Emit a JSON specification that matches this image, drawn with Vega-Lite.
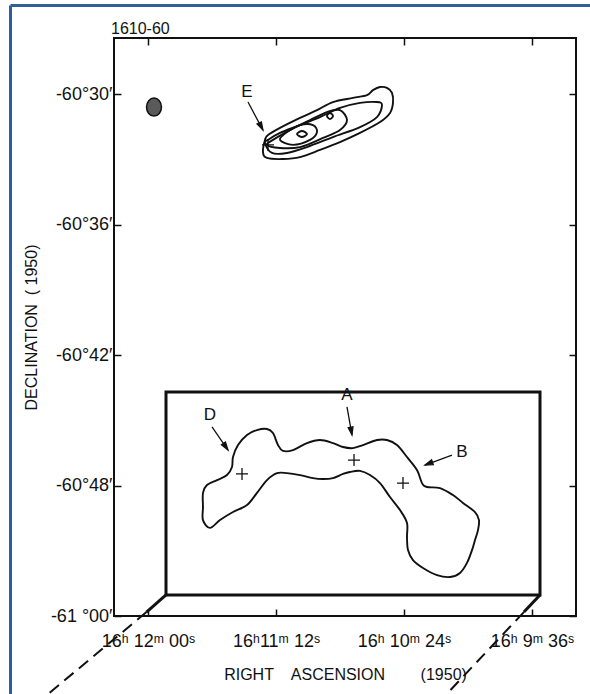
{
  "$schema": "https://vega.github.io/schema/vega-lite/v6.json",
  "width": 462,
  "height": 578,
  "autosize": {"type": "none"},
  "padding": {"left": 114, "top": 38, "right": 14, "bottom": 78},
  "background": "white",
  "datasets": {
    "box": [{"ra": 713.25, "ra2": 573.0, "dec": 43.70, "dec2": 53.03}],
    "contours": [
      {"id": "arch", "i": 0, "ra": 696.75, "dec": 49.95},
      {"id": "arch", "i": 1, "ra": 699.38, "dec": 49.59},
      {"id": "arch", "i": 2, "ra": 699.38, "dec": 48.99},
      {"id": "arch", "i": 3, "ra": 699.38, "dec": 48.34},
      {"id": "arch", "i": 4, "ra": 697.88, "dec": 47.98},
      {"id": "arch", "i": 5, "ra": 694.13, "dec": 47.75},
      {"id": "arch", "i": 6, "ra": 690.38, "dec": 47.52},
      {"id": "arch", "i": 7, "ra": 688.5, "dec": 47.15},
      {"id": "arch", "i": 8, "ra": 688.13, "dec": 46.69},
      {"id": "arch", "i": 9, "ra": 686.25, "dec": 46.14},
      {"id": "arch", "i": 10, "ra": 682.88, "dec": 45.68},
      {"id": "arch", "i": 11, "ra": 679.13, "dec": 45.45},
      {"id": "arch", "i": 12, "ra": 675.38, "dec": 45.40},
      {"id": "arch", "i": 13, "ra": 673.13, "dec": 45.59},
      {"id": "arch", "i": 14, "ra": 671.25, "dec": 46.14},
      {"id": "arch", "i": 15, "ra": 669.38, "dec": 46.41},
      {"id": "arch", "i": 16, "ra": 665.63, "dec": 46.37},
      {"id": "arch", "i": 17, "ra": 660.38, "dec": 46.05},
      {"id": "arch", "i": 18, "ra": 655.5, "dec": 45.91},
      {"id": "arch", "i": 19, "ra": 650.63, "dec": 46.05},
      {"id": "arch", "i": 20, "ra": 646.88, "dec": 46.23},
      {"id": "arch", "i": 21, "ra": 643.13, "dec": 46.28},
      {"id": "arch", "i": 22, "ra": 639.38, "dec": 46.14},
      {"id": "arch", "i": 23, "ra": 634.13, "dec": 45.91},
      {"id": "arch", "i": 24, "ra": 630.38, "dec": 45.91},
      {"id": "arch", "i": 25, "ra": 626.63, "dec": 46.14},
      {"id": "arch", "i": 26, "ra": 622.88, "dec": 46.69},
      {"id": "arch", "i": 27, "ra": 619.13, "dec": 47.29},
      {"id": "arch", "i": 28, "ra": 617.25, "dec": 47.89},
      {"id": "arch", "i": 29, "ra": 615.38, "dec": 48.07},
      {"id": "arch", "i": 30, "ra": 610.5, "dec": 48.12},
      {"id": "arch", "i": 31, "ra": 605.63, "dec": 48.44},
      {"id": "arch", "i": 32, "ra": 601.88, "dec": 48.80},
      {"id": "arch", "i": 33, "ra": 597.38, "dec": 49.22},
      {"id": "arch", "i": 34, "ra": 595.88, "dec": 49.59},
      {"id": "arch", "i": 35, "ra": 596.25, "dec": 50.05},
      {"id": "arch", "i": 36, "ra": 597.38, "dec": 50.51},
      {"id": "arch", "i": 37, "ra": 598.5, "dec": 50.97},
      {"id": "arch", "i": 38, "ra": 600.38, "dec": 51.56},
      {"id": "arch", "i": 39, "ra": 603.0, "dec": 52.02},
      {"id": "arch", "i": 40, "ra": 606.75, "dec": 52.21},
      {"id": "arch", "i": 41, "ra": 611.63, "dec": 52.12},
      {"id": "arch", "i": 42, "ra": 616.88, "dec": 51.79},
      {"id": "arch", "i": 43, "ra": 620.63, "dec": 51.43},
      {"id": "arch", "i": 44, "ra": 622.5, "dec": 50.97},
      {"id": "arch", "i": 45, "ra": 622.88, "dec": 50.37},
      {"id": "arch", "i": 46, "ra": 622.88, "dec": 49.72},
      {"id": "arch", "i": 47, "ra": 625.5, "dec": 49.13},
      {"id": "arch", "i": 48, "ra": 629.25, "dec": 48.53},
      {"id": "arch", "i": 49, "ra": 633.0, "dec": 47.89},
      {"id": "arch", "i": 50, "ra": 636.75, "dec": 47.52},
      {"id": "arch", "i": 51, "ra": 640.5, "dec": 47.33},
      {"id": "arch", "i": 52, "ra": 644.25, "dec": 47.38},
      {"id": "arch", "i": 53, "ra": 646.88, "dec": 47.47},
      {"id": "arch", "i": 54, "ra": 650.63, "dec": 47.66},
      {"id": "arch", "i": 55, "ra": 654.38, "dec": 47.70},
      {"id": "arch", "i": 56, "ra": 658.13, "dec": 47.66},
      {"id": "arch", "i": 57, "ra": 663.0, "dec": 47.52},
      {"id": "arch", "i": 58, "ra": 667.88, "dec": 47.43},
      {"id": "arch", "i": 59, "ra": 671.63, "dec": 47.43},
      {"id": "arch", "i": 60, "ra": 675.38, "dec": 47.75},
      {"id": "arch", "i": 61, "ra": 679.13, "dec": 48.34},
      {"id": "arch", "i": 62, "ra": 682.88, "dec": 48.90},
      {"id": "arch", "i": 63, "ra": 688.13, "dec": 49.22},
      {"id": "arch", "i": 64, "ra": 693.0, "dec": 49.59},
      {"id": "E1", "i": 0, "ra": 676.13, "dec": 32.11},
      {"id": "E1", "i": 1, "ra": 676.88, "dec": 32.67},
      {"id": "E1", "i": 2, "ra": 675.38, "dec": 32.94},
      {"id": "E1", "i": 3, "ra": 669.38, "dec": 32.99},
      {"id": "E1", "i": 4, "ra": 663.0, "dec": 32.90},
      {"id": "E1", "i": 5, "ra": 655.5, "dec": 32.57},
      {"id": "E1", "i": 6, "ra": 648.0, "dec": 32.21},
      {"id": "E1", "i": 7, "ra": 640.5, "dec": 31.79},
      {"id": "E1", "i": 8, "ra": 633.0, "dec": 31.29},
      {"id": "E1", "i": 9, "ra": 629.25, "dec": 30.87},
      {"id": "E1", "i": 10, "ra": 628.13, "dec": 30.41},
      {"id": "E1", "i": 11, "ra": 628.5, "dec": 29.95},
      {"id": "E1", "i": 12, "ra": 630.38, "dec": 29.72},
      {"id": "E1", "i": 13, "ra": 633.0, "dec": 29.68},
      {"id": "E1", "i": 14, "ra": 635.63, "dec": 29.82},
      {"id": "E1", "i": 15, "ra": 637.88, "dec": 30.05},
      {"id": "E1", "i": 16, "ra": 643.13, "dec": 30.18},
      {"id": "E1", "i": 17, "ra": 650.63, "dec": 30.37},
      {"id": "E1", "i": 18, "ra": 656.63, "dec": 30.74},
      {"id": "E1", "i": 19, "ra": 663.0, "dec": 31.10},
      {"id": "E1", "i": 20, "ra": 670.5, "dec": 31.56},
      {"id": "E1", "i": 21, "ra": 675.0, "dec": 31.89},
      {"id": "E2", "i": 0, "ra": 676.13, "dec": 32.25},
      {"id": "E2", "i": 1, "ra": 673.5, "dec": 32.71},
      {"id": "E2", "i": 2, "ra": 667.88, "dec": 32.71},
      {"id": "E2", "i": 3, "ra": 660.38, "dec": 32.44},
      {"id": "E2", "i": 4, "ra": 650.63, "dec": 31.98},
      {"id": "E2", "i": 5, "ra": 640.5, "dec": 31.52},
      {"id": "E2", "i": 6, "ra": 634.13, "dec": 31.06},
      {"id": "E2", "i": 7, "ra": 632.25, "dec": 30.51},
      {"id": "E2", "i": 8, "ra": 634.13, "dec": 30.37},
      {"id": "E2", "i": 9, "ra": 640.5, "dec": 30.41},
      {"id": "E2", "i": 10, "ra": 648.0, "dec": 30.64},
      {"id": "E2", "i": 11, "ra": 655.5, "dec": 31.06},
      {"id": "E2", "i": 12, "ra": 663.0, "dec": 31.43},
      {"id": "E2", "i": 13, "ra": 670.5, "dec": 31.79},
      {"id": "E2", "i": 14, "ra": 675.0, "dec": 32.11},
      {"id": "E3", "i": 0, "ra": 675.38, "dec": 32.34},
      {"id": "E3", "i": 1, "ra": 670.5, "dec": 32.48},
      {"id": "E3", "i": 2, "ra": 663.0, "dec": 32.44},
      {"id": "E3", "i": 3, "ra": 654.38, "dec": 32.02},
      {"id": "E3", "i": 4, "ra": 648.0, "dec": 31.66},
      {"id": "E3", "i": 5, "ra": 645.38, "dec": 31.20},
      {"id": "E3", "i": 6, "ra": 648.0, "dec": 30.74},
      {"id": "E3", "i": 7, "ra": 652.88, "dec": 30.83},
      {"id": "E3", "i": 8, "ra": 659.25, "dec": 31.20},
      {"id": "E3", "i": 9, "ra": 666.75, "dec": 31.66},
      {"id": "E3", "i": 10, "ra": 673.13, "dec": 32.11},
      {"id": "E4", "i": 0, "ra": 670.5, "dec": 32.11},
      {"id": "E4", "i": 1, "ra": 665.63, "dec": 32.34},
      {"id": "E4", "i": 2, "ra": 659.25, "dec": 32.11},
      {"id": "E4", "i": 3, "ra": 656.63, "dec": 31.75},
      {"id": "E4", "i": 4, "ra": 658.13, "dec": 31.43},
      {"id": "E4", "i": 5, "ra": 663.0, "dec": 31.43},
      {"id": "E4", "i": 6, "ra": 667.88, "dec": 31.75},
      {"id": "E5", "i": 0, "ra": 664.13, "dec": 31.84},
      {"id": "E5", "i": 1, "ra": 662.25, "dec": 31.98},
      {"id": "E5", "i": 2, "ra": 660.38, "dec": 31.84},
      {"id": "E5", "i": 3, "ra": 662.25, "dec": 31.70},
      {"id": "E6", "i": 0, "ra": 652.88, "dec": 31.01},
      {"id": "E6", "i": 1, "ra": 651.75, "dec": 31.15},
      {"id": "E6", "i": 2, "ra": 650.63, "dec": 31.01},
      {"id": "E6", "i": 3, "ra": 651.75, "dec": 30.87}
    ],
    "shafts": [
      {"id": "E", "i": 0, "ra": 682.5, "dec": 30.37},
      {"id": "E", "i": 1, "ra": 676.88, "dec": 31.66},
      {"id": "D", "i": 0, "ra": 696.0, "dec": 45.31},
      {"id": "D", "i": 1, "ra": 690.0, "dec": 46.37},
      {"id": "A", "i": 0, "ra": 645.38, "dec": 44.39},
      {"id": "A", "i": 1, "ra": 643.5, "dec": 45.68},
      {"id": "B", "i": 0, "ra": 606.0, "dec": 46.60},
      {"id": "B", "i": 1, "ra": 616.13, "dec": 47.06}
    ],
    "heads": [
      {"id": "E", "i": 0, "ra": 676.88, "dec": 31.66},
      {"id": "E", "i": 1, "ra": 679.13, "dec": 31.38},
      {"id": "E", "i": 2, "ra": 677.48, "dec": 31.28},
      {"id": "D", "i": 0, "ra": 690.0, "dec": 46.37},
      {"id": "D", "i": 1, "ra": 692.48, "dec": 46.13},
      {"id": "D", "i": 2, "ra": 690.95, "dec": 46.0},
      {"id": "A", "i": 0, "ra": 643.5, "dec": 45.68},
      {"id": "A", "i": 1, "ra": 644.95, "dec": 45.34},
      {"id": "A", "i": 2, "ra": 643.11, "dec": 45.30},
      {"id": "B", "i": 0, "ra": 616.13, "dec": 47.06},
      {"id": "B", "i": 1, "ra": 613.64, "dec": 46.82},
      {"id": "B", "i": 2, "ra": 612.99, "dec": 47.04}
    ],
    "crosses": [
      {"ra": 684.75, "dec": 47.47},
      {"ra": 642.75, "dec": 46.83},
      {"ra": 624.38, "dec": 47.89},
      {"ra": 675.0, "dec": 32.34}
    ],
    "labels": [
      {"label": "E", "ra": 682.88, "dec": 29.91},
      {"label": "D", "ra": 696.75, "dec": 44.76},
      {"label": "A", "ra": 645.38, "dec": 43.84},
      {"label": "B", "ra": 602.25, "dec": 46.46}
    ],
    "heading": [
      {"label": "1610-60", "ra": 733.88, "dec": 27.24}
    ],
    "beam": [{"ra": 717.75, "dec": 30.60}],
    "perspSolid": [
      {"id": "L", "i": 0, "ra": 713.25, "dec": 53.03},
      {"id": "L", "i": 1, "ra": 720.56, "dec": 53.82},
      {"id": "R", "i": 0, "ra": 573.0, "dec": 53.03},
      {"id": "R", "i": 1, "ra": 579.04, "dec": 53.82}
    ],
    "perspDashed": [
      {"id": "L", "i": 0, "ra": 720.56, "dec": 53.82},
      {"id": "L", "i": 1, "ra": 760.13, "dec": 57.86},
      {"id": "R", "i": 0, "ra": 579.04, "dec": 53.82},
      {"id": "R", "i": 1, "ra": 610.1, "dec": 57.86}
    ]
  },
  "layer": [
    {
      "layer": [
        {
          "data": {"name": "box"},
          "mark": {"type": "rect", "fill": null, "stroke": "#111", "strokeWidth": 3, "clip": false},
          "encoding": {
            "x": {"field": "ra", "type": "quantitative",
              "scale": {"domain": [559.5, 732.75], "reverse": true, "nice": false, "zero": false},
              "axis": {"values": [720, 672, 624, 576],
                "labelExpr": "datum.value == 720 ? '16ʰ 12ᵐ 00ˢ' : datum.value == 672 ? '16ʰ11ᵐ 12ˢ' : datum.value == 624 ? '16ʰ 10ᵐ 24ˢ' : '16ʰ 9ᵐ 36ˢ'",
                "title": "RIGHT\u00a0\u00a0\u00a0 ASCENSION\u00a0\u00a0\u00a0\u00a0\u00a0\u00a0\u00a0 (1950)", "labelPadding": 23, "titlePadding": 16,
                "labelDx": 9, "labelFlush": false, "labelOverlap": false}},
            "x2": {"field": "ra2"},
            "y": {"field": "dec", "type": "quantitative",
              "scale": {"domain": [27.425, 54], "reverse": true, "nice": false, "zero": false},
              "axis": {"values": [30, 36, 42, 48, 54],
                "labelExpr": "datum.value == 54 ? '-61 °00′' : '-60°' + datum.value + '′'",
                "title": "DECLINATION\u00a0\u00a0(\u00a01950)", "labelPadding": 9, "titlePadding": 11,
                "labelFlush": false, "labelOverlap": false, "labelBaseline": "middle"}},
            "y2": {"field": "dec2"}
          }
        },
        {
          "data": {"name": "contours"},
          "mark": {"type": "line", "interpolate": "cardinal-closed", "stroke": "#111", "strokeWidth": 1.9},
          "encoding": {
            "x": {"field": "ra", "type": "quantitative"},
            "y": {"field": "dec", "type": "quantitative"},
            "detail": {"field": "id"},
            "order": {"field": "i", "type": "quantitative"}
          }
        },
        {
          "data": {"name": "shafts"},
          "mark": {"type": "line", "stroke": "#111", "strokeWidth": 1.3},
          "encoding": {
            "x": {"field": "ra", "type": "quantitative"},
            "y": {"field": "dec", "type": "quantitative"},
            "detail": {"field": "id"},
            "order": {"field": "i", "type": "quantitative"}
          }
        },
        {
          "data": {"name": "heads"},
          "mark": {"type": "line", "interpolate": "linear-closed", "stroke": "#111", "strokeWidth": 1.2, "fill": "#111"},
          "encoding": {
            "x": {"field": "ra", "type": "quantitative"},
            "y": {"field": "dec", "type": "quantitative"},
            "detail": {"field": "id"},
            "order": {"field": "i", "type": "quantitative"}
          }
        },
        {
          "data": {"name": "crosses"},
          "mark": {"type": "point", "shape": "M-1,0L1,0M0,-1L0,1", "size": 144, "filled": false, "stroke": "#111", "strokeWidth": 1.3, "opacity": 1},
          "encoding": {
            "x": {"field": "ra", "type": "quantitative"},
            "y": {"field": "dec", "type": "quantitative"}
          }
        },
        {
          "data": {"name": "labels"},
          "mark": {"type": "text", "font": "Liberation Sans", "fontSize": 17, "color": "#111", "align": "center", "baseline": "middle"},
          "encoding": {
            "x": {"field": "ra", "type": "quantitative"},
            "y": {"field": "dec", "type": "quantitative"},
            "text": {"field": "label"}
          }
        },
        {
          "data": {"name": "heading"},
          "mark": {"type": "text", "font": "Liberation Sans", "fontSize": 16, "color": "#111", "align": "left", "baseline": "alphabetic", "clip": false},
          "encoding": {
            "x": {"field": "ra", "type": "quantitative"},
            "y": {"field": "dec", "type": "quantitative"},
            "text": {"field": "label"}
          }
        },
        {
          "data": {"name": "beam"},
          "mark": {"type": "point", "shape": "M-0.83,0A0.83,1,0,1,0,0.83,0A0.83,1,0,1,0,-0.83,0Z", "size": 324, "filled": true, "fill": "#5a5a5a", "stroke": "#111", "strokeWidth": 1.5, "opacity": 1},
          "encoding": {
            "x": {"field": "ra", "type": "quantitative"},
            "y": {"field": "dec", "type": "quantitative"}
          }
        },
        {
          "data": {"name": "perspSolid"},
          "mark": {"type": "line", "stroke": "#111", "strokeWidth": 3, "clip": false},
          "encoding": {
            "x": {"field": "ra", "type": "quantitative"},
            "y": {"field": "dec", "type": "quantitative"},
            "detail": {"field": "id"},
            "order": {"field": "i", "type": "quantitative"}
          }
        },
        {
          "data": {"name": "perspDashed"},
          "mark": {"type": "line", "stroke": "#111", "strokeWidth": 2, "strokeDash": [12, 7], "clip": false},
          "encoding": {
            "x": {"field": "ra", "type": "quantitative"},
            "y": {"field": "dec", "type": "quantitative"},
            "detail": {"field": "id"},
            "order": {"field": "i", "type": "quantitative"}
          }
        },
        {
          "data": {"values": [{}]},
          "mark": {"type": "rule", "stroke": "#2f5e9c", "strokeWidth": 3, "clip": false},
          "encoding": {
            "x": {"datum": 771.56},
            "y": {"datum": 25.93},
            "y2": {"datum": 57.86}
          }
        },
        {
          "data": {"values": [{}]},
          "mark": {"type": "rule", "stroke": "#2f5e9c", "strokeWidth": 3, "clip": false},
          "encoding": {
            "x": {"datum": 771.56},
            "x2": {"datum": 550.5},
            "y": {"datum": 25.93}
          }
        }
      ]
    },
    {
      "data": {"name": "crosses"},
      "mark": {"type": "point", "opacity": 0},
      "encoding": {
        "x": {"field": "ra", "type": "quantitative",
          "axis": {"orient": "top", "values": [720, 672, 624, 576], "labels": false, "title": null}},
        "y": {"field": "dec", "type": "quantitative",
          "axis": {"orient": "right", "values": [30, 36, 42, 48, 54], "labels": false, "title": null}}
      }
    }
  ],
  "resolve": {"axis": {"x": "independent", "y": "independent"}},
  "config": {
    "view": {"stroke": "#111", "strokeWidth": 2},
    "axis": {"domain": false, "grid": false, "tickColor": "#111", "tickWidth": 1.5, "tickSize": -7,
      "labelFont": "Liberation Sans", "labelFontSize": 18, "labelColor": "#111",
      "titleFont": "Liberation Sans", "titleFontSize": 16, "titleFontWeight": "normal", "titleColor": "#111"}
  }
}
